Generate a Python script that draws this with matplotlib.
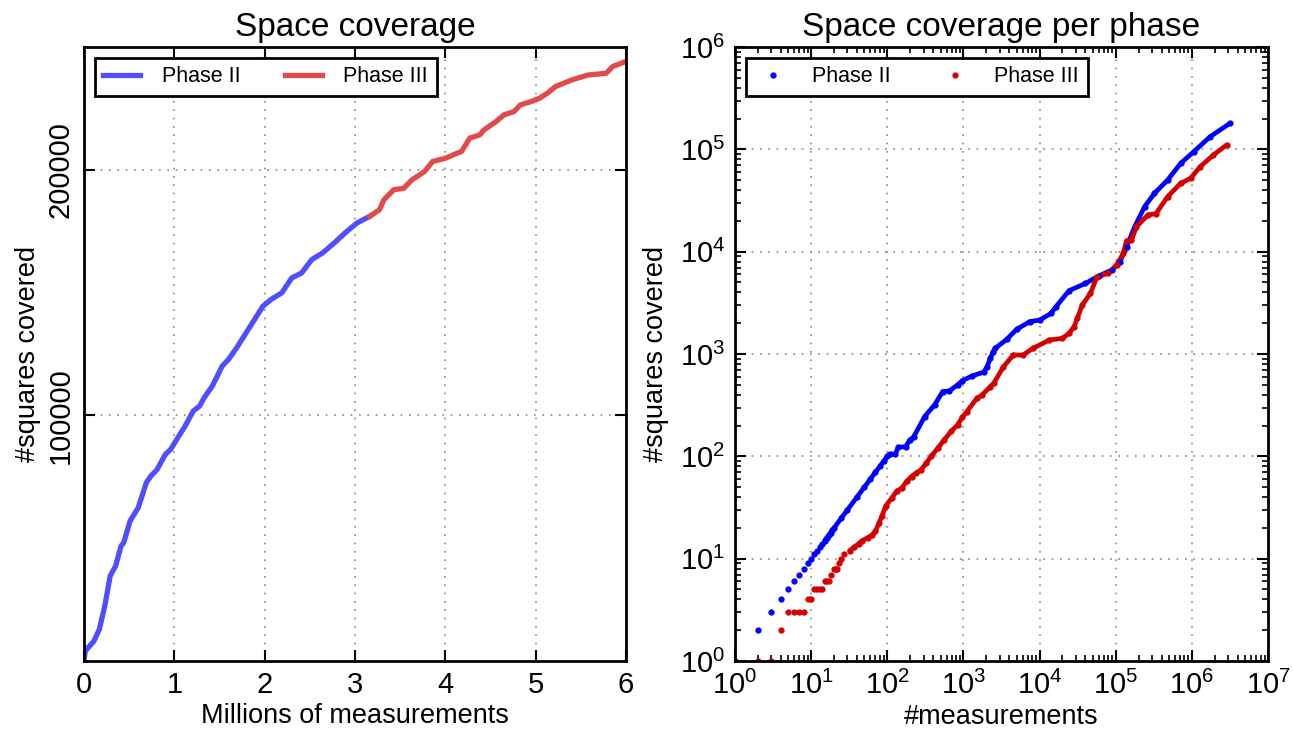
import matplotlib
matplotlib.use("Agg")
import matplotlib.pyplot as plt
from matplotlib.ticker import LogLocator, NullFormatter

plt.rcParams['font.family'] = ['Liberation Sans', 'DejaVu Sans']
plt.rcParams['mathtext.fontset'] = 'custom'
plt.rcParams['mathtext.rm'] = 'Liberation Sans'
plt.rcParams['mathtext.it'] = 'Liberation Sans:italic'
plt.rcParams['mathtext.bf'] = 'Liberation Sans:bold'

# left plot: cumulative coverage, x in millions of measurements
p2_mx = [0, 0.014, 0.11, 0.17, 0.23, 0.29, 0.35, 0.41, 0.44, 0.51, 0.60, 0.69, 0.74,
         0.81, 0.90, 0.96, 1.05, 1.12, 1.21, 1.28, 1.33, 1.42, 1.53, 1.60, 1.69, 1.76,
         1.98, 2.07, 2.19, 2.30, 2.41, 2.52, 2.64, 2.77, 2.89, 3.02, 3.16]
p2_cov = [0, 4070, 8100, 12900, 22400, 34600, 38700, 46800, 48200, 57000, 62400, 72600,
          75300, 78000, 84100, 86200, 91600, 95700, 101800, 103800, 107200, 111900, 120100,
          122800, 127500, 131600, 144400, 147200, 149900, 156000, 158000, 163400, 166100,
          170200, 174300, 178300, 181000]
p3_mx = [3.16, 3.27, 3.32, 3.43, 3.54, 3.63, 3.77, 3.86, 4.00, 4.18, 4.27, 4.38, 4.43,
         4.56, 4.65, 4.76, 4.83, 4.95, 5.04, 5.13, 5.22, 5.40, 5.58, 5.78, 5.85, 5.99]
p3_cov = [181000, 183700, 187800, 191900, 192500, 195900, 199300, 203400, 204700, 207500,
          212900, 214200, 216300, 219600, 222400, 223700, 226400, 227800, 229100, 231200,
          233900, 236600, 238600, 239300, 242000, 244000]

# right plot: per phase coverage, log-log
p2_n = [1, 2, 3, 4, 5, 6, 7, 8, 9, 10, 11, 12, 13, 14, 15, 16, 17, 18, 19, 20, 25, 30,
        40, 50, 60, 70, 80, 90, 100, 109, 127, 140, 174, 198, 221, 310, 418, 535, 653,
        836, 970, 1306, 1850, 2044, 2256, 2450, 2618, 3706, 4990, 7430, 10000, 14160,
        16440, 24400, 40100, 59700, 88700, 113800, 138800, 177800, 239400, 322700,
        480000, 713000, 1060000, 1740000, 3160000]
p2_sq = [1, 2, 3, 4, 5, 6, 7, 8, 9, 10, 11, 12, 13, 14, 15, 16, 17, 18, 19, 20, 25, 30,
         40, 50, 60, 70, 80, 90, 100, 105, 105, 123, 124, 145, 154, 245, 318, 430, 435,
         499, 550, 611, 665, 752, 908, 1050, 1136, 1390, 1741, 2071, 2146, 2494, 2904,
         4160, 4896, 5781, 6618, 7980, 11190, 17540, 27540, 37150, 50100, 72950, 94900,
         133000, 179500]
p3_n = [1, 2, 3, 4, 5, 6, 7, 8, 9, 10, 11, 12, 13, 14, 15, 16, 17, 18, 20, 21, 22, 23,
        25, 27, 32, 37, 42, 47, 55, 63, 70, 78, 85, 95, 115, 133, 155, 180, 208, 241,
        280, 325, 377, 460, 560, 688, 836, 970, 1106, 1505, 1760, 2250, 2495, 3359,
        4519, 6080, 8200, 13470, 20000, 24400, 28400, 31300, 36300, 46600, 56800, 80300,
        103000, 125700, 138800, 161000, 187000, 264500, 339000, 480000, 713000, 961000,
        1290000, 1920000, 2860000]
p3_sq = [1, 1, 1, 2, 3, 3, 3, 3, 4, 4, 5, 5, 5, 5, 6, 6, 6, 7, 8, 8, 8, 9,
         10, 11, 12, 13, 14, 15, 16, 17, 18.6, 22.4, 26, 32.5, 39.4, 45.6, 49, 57, 63.5,
         68.8, 74.3, 86, 100, 120, 145, 175, 203, 241, 273, 370, 398, 480, 516, 751, 978,
         978, 1136, 1370, 1423, 1592, 1849, 2233, 3012, 3919, 5700, 6140, 7410, 9640,
         12800, 12900, 17540, 22800, 23600, 34450, 46500, 52100, 67800, 88100, 110200]

blue_l = '#4f4fff'
red_l = '#e34a4a'
blue_r = '#0000ff'
red_r = '#d40000'

fig = plt.figure(figsize=(12.93, 7.40), dpi=100)
ax1 = fig.add_axes([84 / 1293, 79 / 740, 542 / 1293, 614 / 740])
ax2 = fig.add_axes([735 / 1293, 79 / 740, 533 / 1293, 614 / 740])

ax1.plot(p2_mx, p2_cov, color=blue_l, lw=3.8, label='Phase II')
ax1.plot(p3_mx, p3_cov, color=red_l, lw=3.8, label='Phase III')
ax1.set_xlim(0, 6)
ax1.set_ylim(0, 250000)
ax1.set_xticks(range(7))
ax1.set_yticks([100000, 200000])
ax1.set_yticklabels(['100000', '200000'], rotation=90, va='center')
ax1.set_title('Space coverage', fontsize=24, pad=8)
ax1.set_xlabel('Millions of measurements', fontsize=19.5, labelpad=3)
ax1.set_ylabel('#squares covered', fontsize=19.5, labelpad=4)

# dense part drawn as a line, dots on top
ax2.plot(p2_n[14:], p2_sq[14:], color=blue_r, lw=3.4, solid_capstyle='round')
ax2.plot(p3_n[24:], p3_sq[24:], color=red_r, lw=3.4, solid_capstyle='round')
ax2.plot(p2_n, p2_sq, '.', color=blue_r, ms=7, label='Phase II')
ax2.plot(p3_n, p3_sq, '.', color=red_r, ms=7, label='Phase III')
ax2.set_xscale('log')
ax2.set_yscale('log')
ax2.set_xlim(1, 1e7)
ax2.set_ylim(1, 1e6)
for axis in (ax2.xaxis, ax2.yaxis):
    axis.set_major_locator(LogLocator(base=10, numticks=20))
    axis.set_minor_locator(LogLocator(base=10, subs=range(2, 10), numticks=20))
    axis.set_minor_formatter(NullFormatter())
ax2.set_title('Space coverage per phase', fontsize=24, pad=8)
ax2.set_xlabel('#measurements', fontsize=19.5, labelpad=3)
ax2.set_ylabel('#squares covered', fontsize=19.5, labelpad=8)

for ax in (ax1, ax2):
    ax.grid(True, which='major', color='#888888', linestyle=(0, (1, 4)), lw=1.2)
    ax.tick_params(which='both', direction='in', top=True, right=True, labelsize=21, pad=7)
    ax.tick_params(which='major', length=8, width=1.5)
    ax.tick_params(which='minor', length=4, width=1.2)
    for s in ax.spines.values():
        s.set_linewidth(2)
    leg = ax.legend(loc='upper left', ncol=2, fontsize=15.5, handlelength=1.7,
                    handletextpad=1.0, columnspacing=2.1, fancybox=False,
                    framealpha=1, borderaxespad=0.5)
    leg.get_frame().set_edgecolor('black')
    leg.get_frame().set_linewidth(2)

fig.savefig('out.png', dpi=100)
